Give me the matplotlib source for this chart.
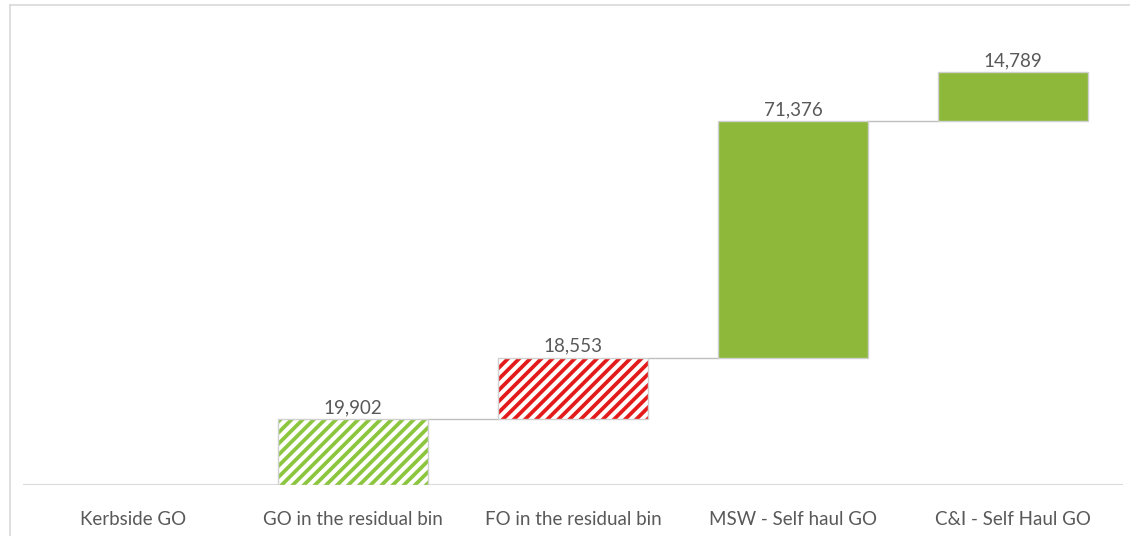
import matplotlib.pyplot as plt
from matplotlib.lines import Line2D
import numpy as np

plt.rcParams['font.family'] = ['Lato', 'DejaVu Sans']
plt.rcParams['hatch.linewidth'] = 2.7

categories = ["Kerbside GO", "GO in the residual bin", "FO in the residual bin",
              "MSW - Self haul GO", "C&I - Self Haul GO"]
values = [0, 19902, 18553, 71376, 14789]
fills = ["solid", "hatch", "hatch", "solid", "solid"]
colours = ["#8DB83A", "#8CC63F", "#E31B1B", "#8DB83A", "#8DB83A"]

text_grey = "#595959"
edge_grey = "#D0D0D0"

fig = plt.figure(figsize=(11.3, 5.36), dpi=100)
ax = fig.add_axes([23 / 1130, 51 / 536, 1100 / 1130, 480 / 536])

# waterfall: each bar starts where the previous one finished
bottoms = np.concatenate([[0], np.cumsum(values)[:-1]])
tops = bottoms + np.array(values)
x = np.arange(len(categories))
width = 0.68

for i in range(len(categories)):
    if values[i] == 0:
        continue
    if fills[i] == "hatch":
        ax.bar(x[i], values[i], width, bottom=bottoms[i], color="white",
               edgecolor=colours[i], hatch="///", linewidth=0, zorder=2)
        ax.bar(x[i], values[i], width, bottom=bottoms[i], fill=False,
               edgecolor=edge_grey, linewidth=1.0, zorder=3)
    else:
        ax.bar(x[i], values[i], width, bottom=bottoms[i], color=colours[i],
               edgecolor=edge_grey, linewidth=1.0, zorder=2)
    ax.text(x[i], tops[i] + 900, f"{values[i]:,}", ha="center", va="bottom",
            fontsize=13.5, color=text_grey, zorder=4)

# connectors between bars
for i in range(1, len(categories) - 1):
    ax.plot([x[i] + width / 2, x[i + 1] - width / 2], [tops[i], tops[i]],
            color="#BFBFBF", linewidth=1.0, zorder=1)

ax.set_xlim(-0.5, len(categories) - 0.5)
ax.set_ylim(0, 145000)
ax.axhline(0, color="#D9D9D9", linewidth=1.5, zorder=1)

for i, c in enumerate(categories):
    ax.text(x[i], -10500, c, ha="center", va="center", fontsize=13.5,
            color=text_grey)

for s in ax.spines.values():
    s.set_visible(False)
ax.set_xticks([])
ax.set_yticks([])

# chart area border
fig.add_artist(Line2D([10 / 1130, 1.0], [1 - 5 / 536, 1 - 5 / 536],
                      transform=fig.transFigure, color="#D9D9D9", linewidth=1.2))
fig.add_artist(Line2D([10 / 1130, 10 / 1130], [0, 1 - 5 / 536],
                      transform=fig.transFigure, color="#D9D9D9", linewidth=1.2))

fig.savefig("out.png", dpi=100)
